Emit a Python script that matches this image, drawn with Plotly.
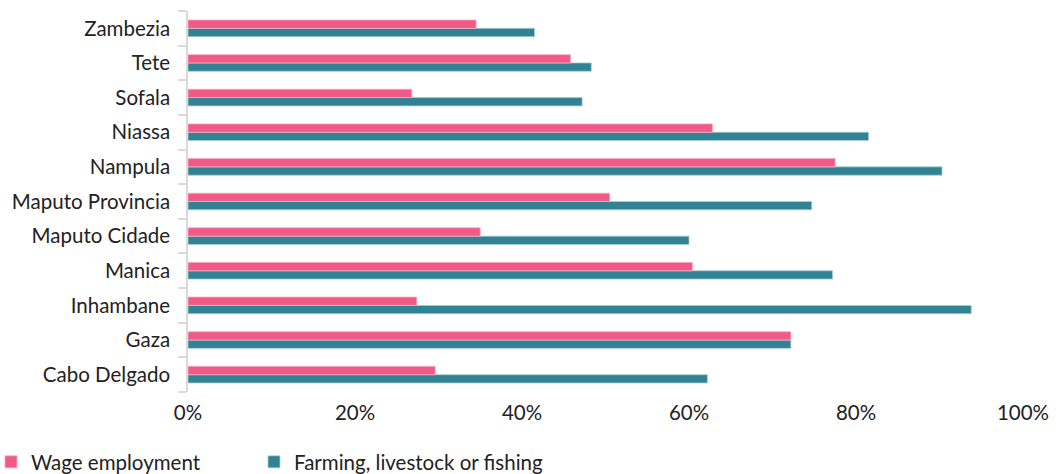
import plotly.graph_objects as go

provinces = ["Cabo Delgado", "Gaza", "Inhambane", "Manica", "Maputo Cidade",
             "Maputo Provincia", "Nampula", "Niassa", "Sofala", "Tete", "Zambezia"]
wage = [29.6, 72.2, 27.4, 60.4, 35.0, 50.5, 77.5, 62.8, 26.8, 45.8, 34.5]
farming = [62.2, 72.2, 93.8, 77.2, 60.0, 74.7, 90.3, 81.5, 47.2, 48.3, 41.5]
x_ticks = [0, 20, 40, 60, 80, 100]
x_labels = ["0%", "20%", "40%", "60%", "80%", "100%"]

PINK = "#F15A87"
TEAL = "#318292"
FONT = "Lato"
FS = 20.5
W, H = 1059, 474
L, R, T, B = 188, 36, 11, 82
PW, PH = W - L - R, H - T - B

fig = go.Figure()
fig.add_trace(go.Bar(
    y=provinces, x=farming, orientation="h", name="Farming, livestock or fishing",
    marker=dict(color=TEAL, line=dict(color="#a8ced6", width=0.8)),
    legend="legend2",
))
fig.add_trace(go.Bar(
    y=provinces, x=wage, orientation="h", name="Wage employment",
    marker=dict(color=PINK, line=dict(color="#f8a9c0", width=0.8)),
    legend="legend",
))

legend_common = dict(orientation="h", xref="paper", yref="paper",
                     xanchor="left", y=(H - B - 462) / PH, yanchor="middle",
                     font=dict(family=FONT, size=FS, color="#222222"),
                     itemwidth=30, bgcolor="rgba(0,0,0,0)")

fig.update_layout(
    width=W, height=H,
    margin=dict(l=L, r=R, t=T, b=B, autoexpand=False),
    paper_bgcolor="white", plot_bgcolor="white",
    barmode="group", bargap=0.52, bargroupgap=0,
    font=dict(family=FONT, size=FS, color="#222222"),
    showlegend=True,
    legend=dict(x=(-9 - L) / PW, **legend_common),
    legend2=dict(x=(254 - L) / PW, **legend_common),
)
fig.update_xaxes(
    range=[0, 100], tickvals=x_ticks, ticktext=x_labels,
    showgrid=False, zeroline=False, showline=False,
    ticks="", ticklabelstandoff=6,
    tickfont=dict(family=FONT, size=FS, color="#222222"),
)
fig.update_yaxes(
    type="category", categoryorder="array", categoryarray=provinces,
    showgrid=False, zeroline=False, showline=True, linecolor="#d9d9d9", linewidth=1.5,
    ticks="outside", tickson="boundaries", ticklen=8, tickcolor="#d9d9d9", tickwidth=1.5,
    ticklabelstandoff=12,
    tickfont=dict(family=FONT, size=FS, color="#222222"),
)

fig.write_html("out.html", config={"displayModeBar": False},
               post_script="document.body.style.margin='0';")
